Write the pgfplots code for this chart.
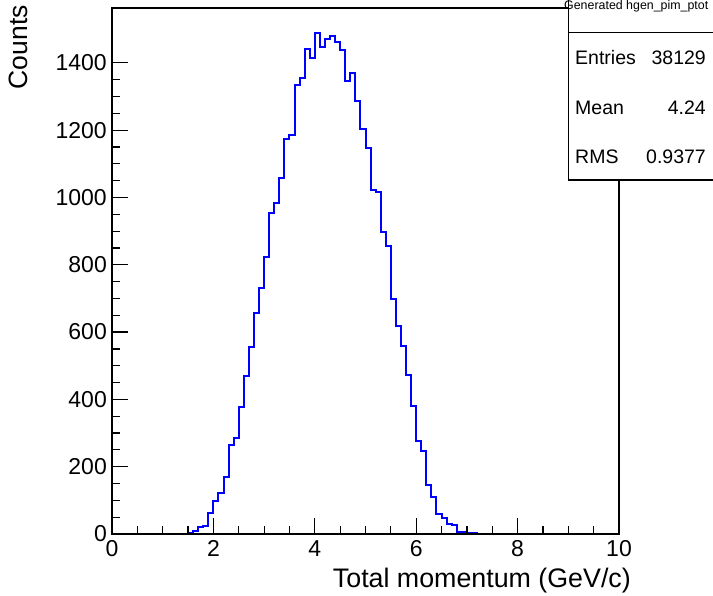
\documentclass[border=0pt]{standalone}
\usepackage{pgfplots}
\pgfplotsset{compat=1.18}
\usepackage{fontspec}
\setmainfont{Liberation Sans}
\begin{document}
\begin{tikzpicture}
\useasboundingbox (0,0) rectangle (713bp,596bp);
\clip (0,0) rectangle (713bp,596bp);
\begin{axis}[
  at={(112bp,62bp)}, anchor=south west, scale only axis,
  width=507bp, height=526bp,
  xmin=0, xmax=10, ymin=0, ymax=1563,
  xtick={0,2,...,10}, ytick={0,200,...,1400},
  minor x tick num=3, minor y tick num=3,
  tick align=inside, xtick pos=bottom, ytick pos=left,
  major tick length=15.5bp, minor tick length=7.8bp,
  every tick/.style={black, line width=1.2bp},
  axis line style={line width=1.5bp},
  axis on top,
  /pgf/number format/assume math mode=true,
  /pgf/number format/1000 sep={},
  scaled y ticks=false,
  yticklabel style={font=\fontsize{23bp}{27bp}\selectfont, anchor=east, inner sep=0pt, xshift=-5bp},
  xticklabel style={font=\fontsize{23bp}{27bp}\selectfont, anchor=north, inner sep=0pt, yshift=-6bp},
  xlabel={Total momentum (GeV/c)},
  xlabel style={at={(axis description cs:1.0237,-0.0646)}, anchor=north east, inner sep=0pt, font=\fontsize{26.8bp}{30bp}\selectfont},
  ylabel={Counts},
  ylabel style={at={(axis description cs:-0.1657,1.0057)}, anchor=south east, inner sep=0pt, font=\fontsize{26.5bp}{30bp}\selectfont},
]
\addplot[const plot mark left, color={rgb,1:red,0;green,0;blue,1}, line width=2bp] coordinates {
(0,0)(1.2,0)(1.3,1)(1.4,1)(1.5,3)(1.6,8)(1.7,22)(1.8,25)(1.9,62)(2.0,99)
(2.1,121)(2.2,170)(2.3,263)(2.4,286)(2.5,376)(2.6,470)(2.7,557)(2.8,658)(2.9,730)(3.0,823)
(3.1,955)(3.2,983)(3.3,1057)(3.4,1173)(3.5,1187)(3.6,1333)(3.7,1355)(3.8,1441)(3.9,1413)(4.0,1488)
(4.1,1447)(4.2,1471)(4.3,1479)(4.4,1463)(4.5,1439)(4.6,1347)(4.7,1371)(4.8,1286)(4.9,1204)(5.0,1148)
(5.1,1021)(5.2,1017)(5.3,896)(5.4,856)(5.5,698)(5.6,618)(5.7,559)(5.8,473)(5.9,381)(6.0,276)
(6.1,247)(6.2,146)(6.3,111)(6.4,60)(6.5,48)(6.6,29)(6.7,27)(6.8,7)(6.9,7)(7.0,4)
(7.1,2)(7.2,1)(7.3,1)(7.4,1)(7.5,0)(10,0)};
\end{axis}
\draw[line width=1.3bp, fill=white] (568.5bp,416bp) rectangle (720bp,600bp);
\draw[line width=1.3bp] (568.5bp,563.3bp) -- (720bp,563.3bp);
\node[anchor=base west, inner sep=0pt, font=\fontsize{12.4bp}{15bp}\selectfont] at (564bp,586bp) {Generated hgen\_pim\_ptot};
\node[anchor=west, inner sep=0pt, font=\fontsize{19.5bp}{23bp}\selectfont] at (575bp,538bp) {Entries};
\node[anchor=east, inner sep=0pt, font=\fontsize{19.5bp}{23bp}\selectfont] at (706bp,538bp) {38129};
\node[anchor=west, inner sep=0pt, font=\fontsize{19.5bp}{23bp}\selectfont] at (575bp,488bp) {Mean};
\node[anchor=east, inner sep=0pt, font=\fontsize{19.5bp}{23bp}\selectfont] at (706bp,488bp) {4.24};
\node[anchor=west, inner sep=0pt, font=\fontsize{19.5bp}{23bp}\selectfont] at (575bp,439bp) {RMS};
\node[anchor=east, inner sep=0pt, font=\fontsize{19.5bp}{23bp}\selectfont] at (706bp,439bp) {0.9377};
\end{tikzpicture}
\end{document}
